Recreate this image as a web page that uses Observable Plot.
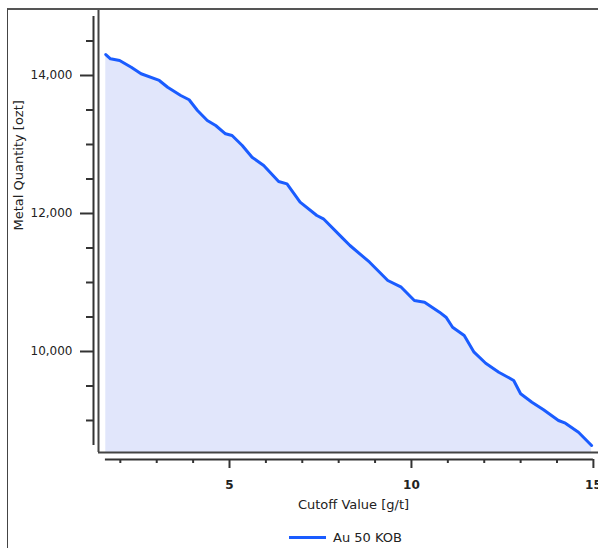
<!DOCTYPE html>
<html>
<head>
<meta charset="utf-8">
<script src="https://cdn.jsdelivr.net/npm/d3@7"></script>
<script src="https://cdn.jsdelivr.net/npm/@observablehq/plot@0.6"></script>
<style>
  html, body { margin: 0; padding: 0; background: #fff; }
  #wrap { position: relative; width: 598px; height: 548px; overflow: hidden; font-family: "DejaVu Sans", sans-serif; color: #222; }
  #wrap svg { position: absolute; left: 0; top: 0; }
  #border { position: absolute; left: 7px; top: 8px; width: 600px; height: 560px; border-left: 1px solid #444; border-top: 2px solid #555; pointer-events: none; }
  #legend { position: absolute; left: 289px; top: 528px; height: 18px; display: flex; align-items: center; font-size: 13px; }
  #legend .swatch { width: 37px; height: 0; border-top: 3px solid #1a5cff; margin-right: 7px; }
</style>
</head>
<body>
<div id="wrap">
  <div id="border"></div>
  <div id="legend"><span class="swatch"></span><span>Au 50 KOB</span></div>
</div>
<script>
// Grade–tonnage curve: metal contained above each cutoff grade
const cutoff = [1.60, 1.73, 1.98, 2.30, 2.57, 3.07, 3.30, 3.66, 3.89, 4.12, 4.39, 4.62, 4.89, 5.07, 5.35, 5.62, 5.94, 6.35, 6.58, 6.94, 7.40, 7.58, 8.08, 8.31, 8.85, 9.35, 9.72, 10.08, 10.36, 10.77, 10.95, 11.13, 11.45, 11.72, 12.04, 12.40, 12.81, 13.00, 13.31, 13.63, 14.04, 14.23, 14.59, 14.95];
const metal = [14304, 14242, 14217, 14120, 14025, 13928, 13830, 13710, 13648, 13493, 13348, 13275, 13155, 13130, 12986, 12816, 12696, 12464, 12430, 12164, 11971, 11923, 11657, 11536, 11294, 11029, 10932, 10739, 10714, 10570, 10497, 10352, 10232, 9990, 9830, 9700, 9580, 9387, 9265, 9155, 9000, 8961, 8830, 8638];

const seriesName = "Au 50 KOB";
const xTitle = "Cutoff Value [g/t]";
const yTitle = "Metal Quantity [ozt]";

const xDomain = [1.40, 15.14];
const yDomain = [8536, 14971];
const xAxisExtent = [1.59, 15];
const yAxisExtent = [8638, 14855];
const xMajor = [5, 10, 15];
const xMinor = [2, 3, 4, 6, 7, 8, 9, 11, 12, 13, 14];
const yMajor = [10000, 12000, 14000];
const yMinor = [9000, 9500, 10500, 11000, 11500, 12500, 13000, 13500, 14500];

const data = cutoff.map((c, i) => ({cutoff: c, metal: metal[i]}));
const blue = "#1a5cff";
const axisColor = "#333";
const noLabel = () => "";

const chart = Plot.plot({
  width: 598,
  height: 548,
  marginLeft: 98,
  marginRight: 0,
  marginTop: 8,
  marginBottom: 96,
  style: {fontFamily: "DejaVu Sans, sans-serif", fontSize: "12px", color: "#222", background: "transparent"},
  x: {domain: xDomain, axis: null, label: null},
  y: {domain: yDomain, axis: null, label: null},
  marks: [
    Plot.areaY(data, {x: "cutoff", y: "metal", fill: "#e1e6fb", clip: true}),
    Plot.lineY(data, {x: "cutoff", y: "metal", stroke: blue, strokeWidth: 3, strokeLinejoin: "round"}),
    // plot box edges
    Plot.ruleX([xDomain[0]], {stroke: "#444", strokeWidth: 2}),
    Plot.ruleY([yDomain[0]], {stroke: "#444", strokeWidth: 2}),
    // offset y axis
    Plot.ruleX([xDomain[0]], {y1: yAxisExtent[0], y2: yAxisExtent[1], dx: -5, stroke: axisColor, strokeWidth: 2}),
    Plot.axisY(yMajor, {dx: -5, tickSize: 13, tickPadding: 8, tickFormat: d3.format(","), stroke: axisColor, strokeWidth: 2, fontSize: 12, fill: "#222", label: null}),
    Plot.axisY(yMinor, {dx: -5, tickSize: 7, tickFormat: noLabel, stroke: axisColor, strokeWidth: 2, label: null}),
    // offset x axis
    Plot.ruleY([yDomain[0]], {x1: xAxisExtent[0], x2: xAxisExtent[1], dy: 7, stroke: axisColor, strokeWidth: 2}),
    Plot.axisX(xMajor, {dy: 7, tickSize: 9, tickPadding: 12, stroke: axisColor, strokeWidth: 2, fontSize: 12, fontWeight: "bold", fill: "#222", label: null}),
    Plot.axisX(xMinor, {dy: 7, tickSize: 4, tickFormat: noLabel, stroke: axisColor, strokeWidth: 2, label: null}),
    // axis titles
    Plot.text([xTitle], {text: d => d, frameAnchor: "bottom", dy: 56, dx: 5, fontSize: 13, fill: "#222"}),
    Plot.text([yTitle], {text: d => d, frameAnchor: "left", rotate: -90, dx: -80, fontSize: 13, fill: "#222"})
  ]
});

document.getElementById("wrap").prepend(chart);
</script>
</body>
</html>
